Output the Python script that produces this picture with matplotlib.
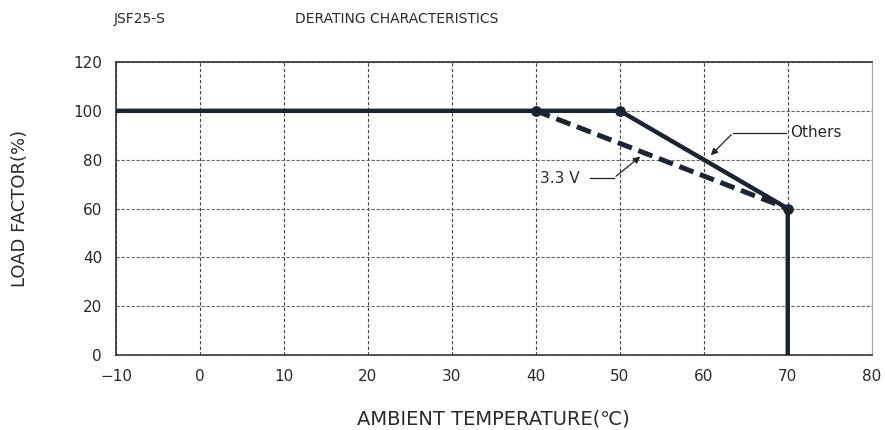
import matplotlib.pyplot as plt

# derating curves
temp_others = [-10, 50, 70, 70]
load_others = [100, 100, 60, 0]
temp_33v = [40, 70]
load_33v = [100, 60]
knee_temps = [40, 50, 70]
knee_loads = [100, 100, 60]

x_ticks = [-10, 0, 10, 20, 30, 40, 50, 60, 70, 80]
y_ticks = [0, 20, 40, 60, 80, 100, 120]

line_color = '#1d2431'
text_color = '#2a2a2a'

plt.rcParams['font.family'] = ['DejaVu Sans Condensed', 'DejaVu Sans']

fig = plt.figure(figsize=(8.85, 4.3), dpi=100)
ax = fig.add_axes([0.131, 0.174, 0.854, 0.682])

ax.plot(temp_others, load_others, color=line_color, linewidth=3.2, solid_capstyle='butt', zorder=3)
ax.plot(temp_33v, load_33v, color=line_color, linewidth=3.6, linestyle=(0, (3, 1.4)), zorder=3)
ax.scatter(knee_temps, knee_loads, s=45, color=line_color, zorder=4)

ax.set_xlim(-10, 80)
ax.set_ylim(0, 120)
ax.set_xticks(x_ticks)
ax.set_yticks(y_ticks)
ax.tick_params(length=0, labelsize=11, colors=text_color, pad=10)
ax.xaxis.grid(True, color='#444444', linestyle=(0, (3, 2)), linewidth=0.8)
ax.yaxis.grid(True, color='#666666', linestyle=(0, (3, 1.5)), linewidth=0.8)

for side in ['left', 'bottom', 'top']:
    ax.spines[side].set_color('#333333')
    ax.spines[side].set_linewidth(1.2)
ax.spines['right'].set_color('#aaaaaa')

# annotations
ax.annotate('', xy=(60.6, 81), xytext=(63.5, 91),
            arrowprops=dict(arrowstyle='-|>', color='#222222', lw=0.9, mutation_scale=10))
ax.plot([63.5, 69.8], [91, 91], color='#222222', lw=0.9)
ax.text(70.3, 91, 'Others', fontsize=11, va='center', ha='left', color=text_color)

ax.annotate('', xy=(52.7, 82), xytext=(49.3, 72.5),
            arrowprops=dict(arrowstyle='-|>', color='#222222', lw=0.9, mutation_scale=10))
ax.plot([46.4, 49.3], [72.5, 72.5], color='#222222', lw=0.9)
ax.text(40.5, 72.5, '3.3 V', fontsize=11, va='center', ha='left', color=text_color)

ax.set_xlabel('AMBIENT TEMPERATURE(℃)', fontsize=14, labelpad=18, color=text_color)
ax.set_ylabel('LOAD FACTOR(%)', fontsize=13, labelpad=32, color=text_color)

fig.text(0.128, 0.955, 'JSF25-S', fontsize=10, color=text_color, va='center')
fig.text(0.333, 0.955, 'DERATING CHARACTERISTICS', fontsize=10, color=text_color, va='center')

fig.savefig('out.png', dpi=100)
